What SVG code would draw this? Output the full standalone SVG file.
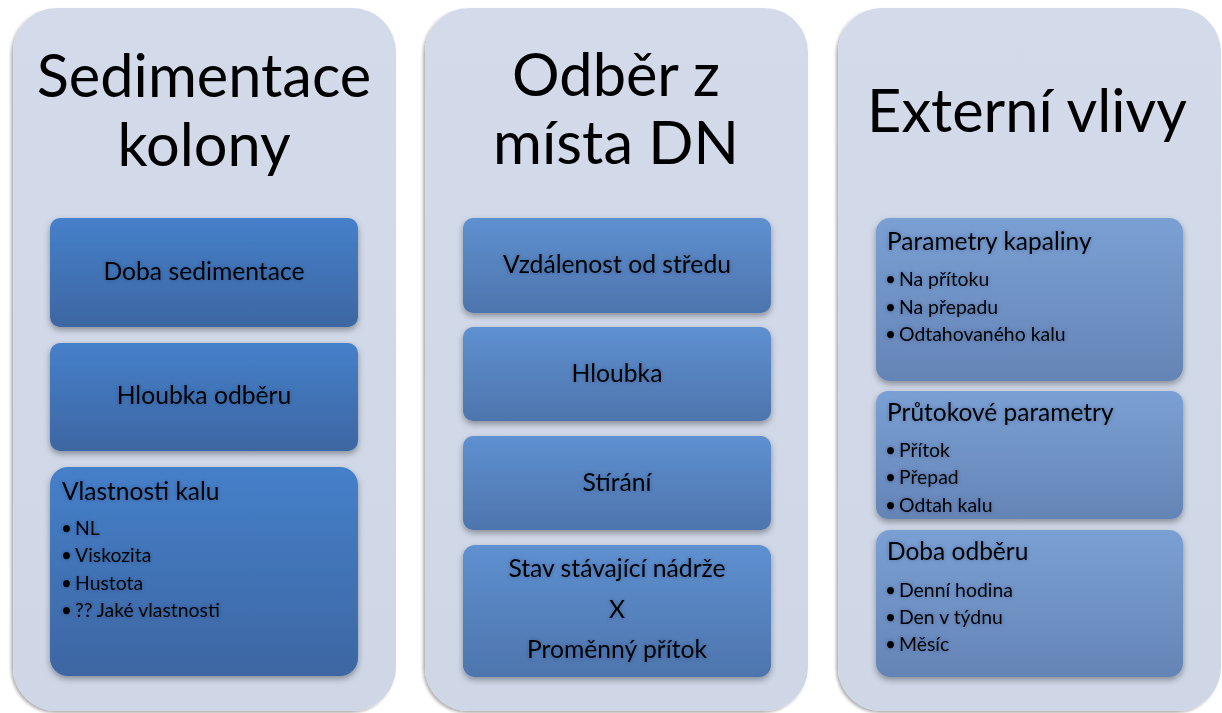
<svg xmlns="http://www.w3.org/2000/svg" width="1222" height="713" viewBox="0 0 1222 713">
<defs>
<linearGradient id="gCol" x1="0" y1="0" x2="0" y2="1">
<stop offset="0" stop-color="#d3dae9"/><stop offset="1" stop-color="#cfd7e7"/>
</linearGradient>
<linearGradient id="g1" x1="0" y1="0" x2="0" y2="1">
<stop offset="0" stop-color="#4580ca"/><stop offset="1" stop-color="#3d66a2"/>
</linearGradient>
<linearGradient id="g2" x1="0" y1="0" x2="0" y2="1">
<stop offset="0" stop-color="#5e90d0"/><stop offset="1" stop-color="#4e75ad"/>
</linearGradient>
<linearGradient id="g3" x1="0" y1="0" x2="0" y2="1">
<stop offset="0" stop-color="#7aa0d3"/><stop offset="1" stop-color="#6584b6"/>
</linearGradient>
<filter id="colSh" x="-5%" y="-5%" width="110%" height="110%">
<feDropShadow dx="-2" dy="2" stdDeviation="1.5" flood-color="#000" flood-opacity="0.3"/>
</filter>
<filter id="boxSh" x="-10%" y="-10%" width="120%" height="130%">
<feDropShadow dx="0" dy="3" stdDeviation="3" flood-color="#000" flood-opacity="0.35"/>
</filter>
<filter id="txtGlow" x="-10%" y="-30%" width="120%" height="160%">
<feGaussianBlur in="SourceAlpha" stdDeviation="2" result="b"/>
<feFlood flood-color="#1a2a50" flood-opacity="0.35"/>
<feComposite in2="b" operator="in" result="s"/>
<feMerge><feMergeNode in="s"/><feMergeNode in="SourceGraphic"/></feMerge>
</filter>
</defs>
<style>
.col{fill:url(#gCol);filter:url(#colSh)}
.b1{fill:url(#g1);filter:url(#boxSh)}
.b2{fill:url(#g2);filter:url(#boxSh)}
.b3{fill:url(#g3);filter:url(#boxSh)}
text{font-family:Lato,"Open Sans","Liberation Sans",sans-serif;fill:#000}
.title{font-size:59.5px;text-anchor:middle}
.bt{font-size:24.7px;text-anchor:middle;filter:url(#txtGlow)}
.h{font-size:24.5px;filter:url(#txtGlow)}
.li{font-size:19.4px;filter:url(#txtGlow)}
.bu{font-size:19px;filter:url(#txtGlow)}
</style>
<rect width="1222" height="713" fill="#ffffff"/>

<g id="col1">
<rect class="col" x="13" y="8" width="383" height="703" rx="44"/>
<text class="title" x="204" y="97">Sedimentace</text>
<text class="title" x="204" y="166">kolony</text>
</g>
<g id="col2">
<rect class="col" x="425" y="8" width="383" height="703" rx="44"/>
<text class="title" x="616" y="96">Odběr z</text>
<text class="title" x="616" y="164">místa DN</text>
</g>
<g id="col3">
<rect class="col" x="838" y="8" width="383" height="703" rx="44"/>
<text class="title" x="1027" y="132">Externí vlivy</text>
</g>

<g id="c1b1"><rect class="b1" x="50" y="218" width="308" height="109" rx="10"/>
<text class="bt" x="204" y="280">Doba sedimentace</text></g>
<g id="c1b2"><rect class="b1" x="50" y="343" width="308" height="108" rx="10"/>
<text class="bt" x="204" y="404">Hloubka odběru</text></g>
<g id="c1b3"><rect class="b1" x="50" y="467" width="308" height="209" rx="18"/>
<text class="h" x="62" y="500">Vlastnosti kalu</text>
<text class="bu" x="61" y="535">•</text><text class="li" x="75" y="535">NL</text>
<text class="bu" x="61" y="562">•</text><text class="li" x="75" y="562">Viskozita</text>
<text class="bu" x="61" y="590">•</text><text class="li" x="75" y="590">Hustota</text>
<text class="bu" x="61" y="617">•</text><text class="li" x="75" y="617">?? Jaké vlastnosti</text></g>

<g id="c2b1"><rect class="b2" x="463" y="218" width="308" height="95" rx="10"/>
<text class="bt" x="617" y="273">Vzdálenost od středu</text></g>
<g id="c2b2"><rect class="b2" x="463" y="327" width="308" height="94" rx="10"/>
<text class="bt" x="617" y="382">Hloubka</text></g>
<g id="c2b3"><rect class="b2" x="463" y="436" width="308" height="94" rx="10"/>
<text class="bt" x="617" y="491">Stírání</text></g>
<g id="c2b4"><rect class="b2" x="463" y="545" width="308" height="132" rx="12"/>
<text class="bt" x="617" y="577">Stav stávající nádrže</text>
<text class="bt" x="617" y="618">X</text>
<text class="bt" x="617" y="658">Proměnný přítok</text></g>

<g id="c3b1"><rect class="b3" x="876" y="218" width="307" height="163" rx="14"/>
<text class="h" x="887" y="250">Parametry kapaliny</text>
<text class="bu" x="885" y="286">•</text><text class="li" x="899" y="286">Na přítoku</text>
<text class="bu" x="885" y="314">•</text><text class="li" x="899" y="314">Na přepadu</text>
<text class="bu" x="885" y="341">•</text><text class="li" x="899" y="341">Odtahovaného kalu</text></g>
<g id="c3b2"><rect class="b3" x="876" y="391" width="307" height="128" rx="12"/>
<text class="h" x="887" y="421">Průtokové parametry</text>
<text class="bu" x="885" y="457">•</text><text class="li" x="899" y="457">Přítok</text>
<text class="bu" x="885" y="484">•</text><text class="li" x="899" y="484">Přepad</text>
<text class="bu" x="885" y="512">•</text><text class="li" x="899" y="512">Odtah kalu</text></g>
<g id="c3b3"><rect class="b3" x="876" y="530" width="307" height="147" rx="14"/>
<text class="h" x="887" y="560">Doba odběru</text>
<text class="bu" x="885" y="597">•</text><text class="li" x="899" y="597">Denní hodina</text>
<text class="bu" x="885" y="624">•</text><text class="li" x="899" y="624">Den v týdnu</text>
<text class="bu" x="885" y="651">•</text><text class="li" x="899" y="651">Měsíc</text></g>

<g id="connectors"/>
</svg>
